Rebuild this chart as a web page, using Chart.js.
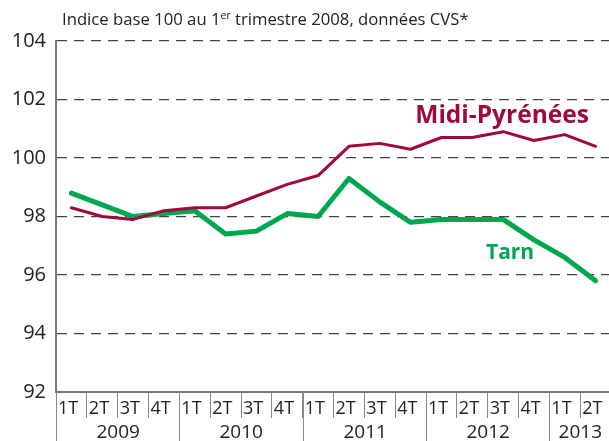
<!DOCTYPE html>
<html>
<head>
  <meta charset="utf-8">
  <title>Indice Midi-Pyrénées / Tarn</title>
  <style>
    body {
      margin: 0;
      background-color: #FFF;
      overflow: hidden;
    }

    #wrap {
      position: relative;
      width: 611px;
      height: 441px;
    }

    #subtitle {
      position: absolute;
      left: 62px;
      top: 7px;
      font-family: "Open Sans", sans-serif;
      font-size: 16.7px;
      color: #222;
      white-space: nowrap;
    }

    #subtitle sup {
      font-size: 10.5px;
      vertical-align: 6px;
      line-height: 0;
    }
  </style>
</head>
<body>
  <div id="wrap">
    <canvas id="chart" width="611" height="441"></canvas>
    <div id="subtitle">Indice base 100 au 1<sup>er</sup> trimestre 2008, données CVS*</div>
  </div>

  <script src="https://cdn.jsdelivr.net/npm/chart.js"></script>

  <script>
    // Data
    var quarters = ['1T', '2T', '3T', '4T', '1T', '2T', '3T', '4T', '1T', '2T', '3T', '4T',
                    '1T', '2T', '3T', '4T', '1T', '2T'];
    var years = ['2009', '2010', '2011', '2012', '2013'];
    var yearFirstQuarter = [0, 4, 8, 12, 16];
    var midiPyrenees = [98.3, 98.0, 97.9, 98.2, 98.3, 98.3, 98.7, 99.1, 99.4,
                        100.4, 100.5, 100.3, 100.7, 100.7, 100.9, 100.6, 100.8, 100.4];
    var tarn = [98.8, 98.4, 98.0, 98.1, 98.2, 97.4, 97.5, 98.1, 98.0,
                99.3, 98.5, 97.8, 97.9, 97.9, 97.9, 97.2, 96.6, 95.8];
    var yTicks = [92, 94, 96, 98, 100, 102, 104];

    var RED = '#A0093F';
    var GREEN = '#00A650';
    var FONT = '"Open Sans", sans-serif';

    // Quarter labels, year brackets and series names
    var extraLabels = {
      id: 'extraLabels',
      afterDraw: function(chart) {
        var ctx = chart.ctx;
        var x = chart.scales.x;
        var y = chart.scales.y;
        var area = chart.chartArea;
        var band = x.getPixelForValue(1) - x.getPixelForValue(0);

        ctx.save();
        ctx.fillStyle = '#222';
        ctx.font = '18px ' + FONT;
        ctx.textBaseline = 'middle';
        ctx.textAlign = 'left';
        quarters.forEach(function(q, i) {
          ctx.fillText(q, x.getPixelForValue(i) - band / 2 + 2, area.bottom + 17);
        });

        ctx.strokeStyle = '#888';
        ctx.lineWidth = 1;
        ctx.textAlign = 'center';
        ctx.font = '19px ' + FONT;
        yearFirstQuarter.forEach(function(first, k) {
          var last = k + 1 < yearFirstQuarter.length ? yearFirstQuarter[k + 1] : quarters.length;
          var left = Math.round(x.getPixelForValue(first) - band / 2) + 0.5;
          ctx.beginPath();
          ctx.moveTo(left, area.bottom);
          ctx.lineTo(left, chart.height);
          ctx.stroke();
          ctx.fillText(years[k], left + band * (last - first) / 2, area.bottom + 41);
        });

        ctx.font = 'bold 24.5px ' + FONT;
        ctx.fillStyle = RED;
        ctx.fillText('Midi-Pyrénées', x.getPixelForValue(14) - 1, y.getPixelForValue(101.45));
        ctx.font = 'bold 21px ' + FONT;
        ctx.fillStyle = GREEN;
        ctx.fillText('Tarn', x.getPixelForValue(14) + 7, y.getPixelForValue(96.75));
        ctx.restore();
      }
    };

    new Chart(document.getElementById('chart'), {
      type: 'line',
      data: {
        labels: quarters,
        datasets: [
          {
            label: 'Midi-Pyrénées',
            data: midiPyrenees,
            borderColor: RED,
            borderWidth: 3,
            pointRadius: 0,
            tension: 0,
            borderJoinStyle: 'round',
            borderCapStyle: 'round'
          },
          {
            label: 'Tarn',
            data: tarn,
            borderColor: GREEN,
            borderWidth: 5,
            pointRadius: 0,
            tension: 0,
            borderJoinStyle: 'round',
            borderCapStyle: 'round'
          }
        ]
      },
      options: {
        responsive: false,
        animation: false,
        devicePixelRatio: 1,
        layout: { padding: { top: 41, right: 0, left: 0, bottom: 0 } },
        plugins: {
          legend: { display: false },
          tooltip: { enabled: false }
        },
        scales: {
          x: {
            offset: true,
            grid: {
              offset: true,
              drawOnChartArea: false,
              drawTicks: true,
              tickLength: 26,
              color: '#888',
              lineWidth: 1
            },
            border: { color: '#777', width: 2 },
            ticks: { display: false },
            afterFit: function(s) { s.height = 49; }
          },
          y: {
            min: 92,
            max: 104,
            afterBuildTicks: function(s) {
              s.ticks = yTicks.map(function(v) { return { value: v }; });
            },
            grid: { color: '#444', lineWidth: 1.2, drawTicks: false },
            border: { color: '#777', width: 2, dash: [10, 7] },
            ticks: { color: '#222', font: { size: 20, family: FONT }, padding: 10 },
            afterFit: function(s) { s.width = 56; }
          }
        }
      },
      plugins: [extraLabels]
    });
  </script>
</body>
</html>
